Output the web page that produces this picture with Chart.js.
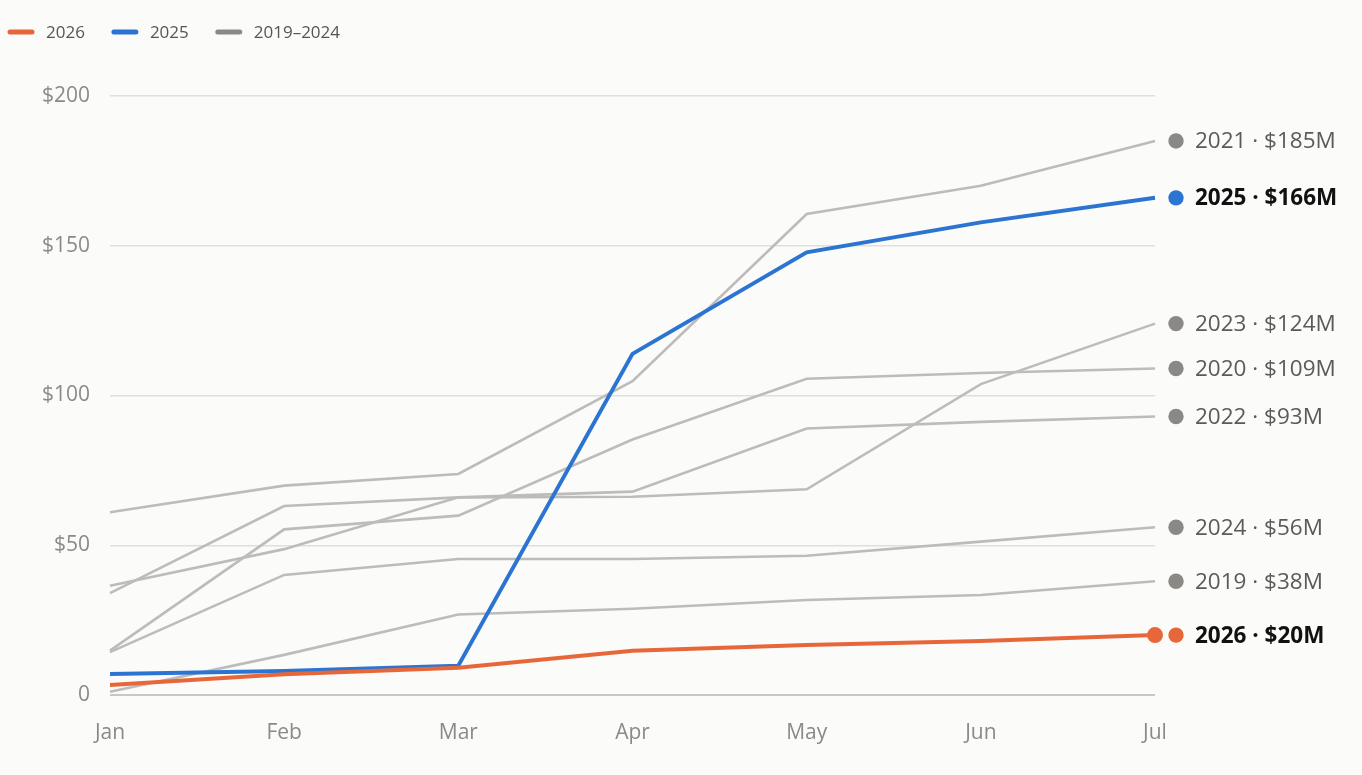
<!DOCTYPE html>
<html>
<head>
<meta charset="utf-8">
<script src="https://cdn.jsdelivr.net/npm/chart.js@4.4.1/dist/chart.umd.min.js"></script>
<style>
  html, body { margin: 0; padding: 0; background: #fbfbf9; }
  #wrap { width: 1362px; height: 775px; }
</style>
</head>
<body>
<div id="wrap"><canvas id="canvas" width="1362" height="775"></canvas></div>
<script>
var months = ['Jan', 'Feb', 'Mar', 'Apr', 'May', 'Jun', 'Jul'];
var yTicks = [0, 50, 100, 150, 200];

// cumulative values, $M
var v2019 = [1.1, 13.4, 26.9, 28.8, 31.7, 33.4, 38];
var v2020 = [14.8, 55.3, 59.9, 85.3, 105.6, 107.5, 109];
var v2021 = [61, 69.9, 73.8, 104.8, 160.6, 170, 185];
var v2022 = [36.5, 48.7, 66, 67.9, 89, 91.2, 93];
var v2023 = [34, 63.1, 66, 66.2, 68.7, 103.8, 124];
var v2024 = [14.3, 40.1, 45.4, 45.4, 46.5, 51.2, 56];
var v2025 = [7, 8, 9.8, 113.9, 147.8, 157.8, 166];
var v2026 = [3.3, 6.9, 9.1, 14.8, 16.7, 18, 20];

var legendItems = ['2026', '2025', '2019\u20132024'];

var ORANGE = '#e8673a';
var BLUE = '#2b74d2';
var GRAY = '#bdbcba';
var DOT_GRAY = '#8a8985';
var FONT = "'Open Sans', 'Noto Sans', sans-serif";

function grayLine(year, values) {
  return {
    label: year, data: values, borderColor: GRAY, borderWidth: 2.6,
    pointRadius: 0, tension: 0, order: 3
  };
}

var datasets = [
  {
    label: '2026', data: v2026, borderColor: ORANGE, borderWidth: 4,
    pointRadius: [0, 0, 0, 0, 0, 0, 8], pointBackgroundColor: ORANGE,
    pointBorderWidth: 0, tension: 0, order: 1, highlight: true
  },
  {
    label: '2025', data: v2025, borderColor: BLUE, borderWidth: 4,
    pointRadius: 0, tension: 0, order: 2, highlight: true
  },
  grayLine('2021', v2021),
  grayLine('2023', v2023),
  grayLine('2020', v2020),
  grayLine('2022', v2022),
  grayLine('2024', v2024),
  grayLine('2019', v2019)
];

// swatch legend, top left
var topLegend = {
  id: 'topLegend',
  afterDraw: function(chart) {
    var ctx = chart.ctx;
    var colors = [ORANGE, BLUE, '#8a8985'];
    var x = 10;
    ctx.save();
    ctx.font = '17px ' + FONT;
    ctx.textBaseline = 'middle';
    for (var i = 0; i < legendItems.length; i++) {
      ctx.strokeStyle = colors[i];
      ctx.lineWidth = 5;
      ctx.lineCap = 'round';
      ctx.beginPath();
      ctx.moveTo(x, 32);
      ctx.lineTo(x + 22, 32);
      ctx.stroke();
      ctx.fillStyle = '#555555';
      ctx.fillText(legendItems[i], x + 36, 33);
      x += 36 + ctx.measureText(legendItems[i]).width + 29;
    }
    ctx.restore();
  }
};

// end labels at the right of the plot
var endLabels = {
  id: 'endLabels',
  afterDatasetsDraw: function(chart) {
    var ctx = chart.ctx;
    var area = chart.chartArea;
    var yScale = chart.scales.y;
    ctx.save();
    ctx.textBaseline = 'middle';
    chart.data.datasets.forEach(function(ds) {
      var last = ds.data[ds.data.length - 1];
      var y = yScale.getPixelForValue(last);
      ctx.fillStyle = ds.highlight ? ds.borderColor : DOT_GRAY;
      ctx.beginPath();
      ctx.arc(area.right + 21, y, 7.7, 0, Math.PI * 2);
      ctx.fill();
      ctx.font = (ds.highlight ? 'bold ' : '') + '22.5px ' + FONT;
      ctx.fillStyle = ds.highlight ? '#111111' : '#5a5a5a';
      ctx.fillText(ds.label + ' \u00b7 $' + Math.round(last) + 'M', area.right + 40, y + 1);
    });
    ctx.restore();
  }
};

var ctx = document.getElementById('canvas').getContext('2d');
new Chart(ctx, {
  type: 'line',
  data: { labels: months, datasets: datasets },
  plugins: [topLegend, endLabels],
  options: {
    responsive: false,
    animation: false,
    layout: { padding: { top: 96, right: 207, bottom: 0, left: 0 } },
    plugins: { legend: { display: false }, tooltip: { enabled: false } },
    scales: {
      x: {
        grid: { display: false },
        border: { display: false },
        ticks: { color: '#8c8a86', font: { family: FONT, size: 21 }, padding: 17 },
        afterFit: function(scale) { scale.height = 80; }
      },
      y: {
        min: 0, max: 200,
        afterBuildTicks: function(scale) {
          scale.ticks = yTicks.map(function(v) { return { value: v }; });
        },
        grid: {
          drawTicks: false,
          color: function(c) { return c.tick && c.tick.value === 0 ? '#c8c7c1' : '#e0dfda'; },
          lineWidth: function(c) { return c.tick && c.tick.value === 0 ? 2 : 1.5; }
        },
        border: { display: false },
        ticks: {
          color: '#8c8a86', font: { family: FONT, size: 21 }, padding: 20,
          callback: function(v) { return v === 0 ? '0' : '$' + v; }
        },
        afterFit: function(scale) { scale.width = 110; }
      }
    }
  }
});
</script>
</body>
</html>
